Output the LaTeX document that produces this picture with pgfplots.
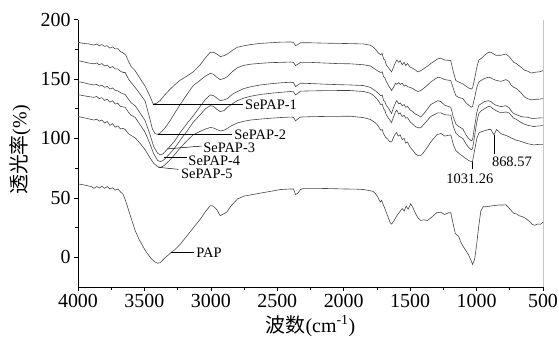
\documentclass[border=0pt]{standalone}
\usepackage{fontspec}
\setmainfont{Liberation Serif}
\newfontfamily\cjk{Noto Sans CJK SC}
\usepackage{pgfplots}
\pgfplotsset{compat=1.18}

\begin{document}
\begin{tikzpicture}
\useasboundingbox (-78bp,-52bp) rectangle (481bp,287bp);
\begin{axis}[
  at={(0,0)}, anchor=south west,
  scale only axis, width=465bp, height=267.4bp,
  x dir=reverse, xmin=500, xmax=4000, ymin=-25, ymax=200,
  axis x line*=bottom, axis y line*=left, axis line style={-, line width=0.7pt},
  xtick={500,1000,...,4000}, ytick={0,50,...,200},
  minor x tick num=1, minor y tick num=1,
  tick align=outside, major tick length=4bp, minor tick length=2.5bp,
  tick style={black, line width=0.6pt},
  ticklabel style={font=\fontsize{20}{22}\selectfont},
  /pgf/number format/assume math mode=true,
  /pgf/number format/1000 sep={},
  xlabel={{\cjk 波数}(cm\textsuperscript{-1})},
  xlabel style={at={(axis description cs:0.5,0)}, anchor=center, yshift=-39bp,
    font=\fontsize{20}{22}\selectfont},
  ylabel={{\cjk 透光率}(\%)},
  ylabel style={at={(axis description cs:-0.1247,0.512)}, anchor=center,
    font=\fontsize{20}{22}\selectfont},
  spec/.style={black!72, line width=0.6pt, mark=none},
  clip=false,
]
\draw[gray!45, line width=0.6pt] (rel axis cs:1,0) -- (rel axis cs:1,1);

% SePAP-1
\addplot[spec] coordinates {
(4000,180.9) (3960,180) (3920,179.5) (3880,178.5) (3860,179.5) (3840,178) (3820,179)
(3800,177.5) (3780,178) (3760,176) (3740,177) (3720,175.3) (3700,175.5) (3680,173)
(3660,172) (3640,170) (3620,165) (3600,160.5) (3570,157) (3530,150) (3495,144)
(3460,136) (3434,129) (3410,129.5) (3381,132) (3344,137) (3306,141.5) (3268,145.5)
(3231,149) (3180,152.5) (3133,156) (3080,162) (3040,168) (3004,172.5) (2980,172.5)
(2955,171) (2929,168.9) (2900,169.7) (2876,171) (2840,174) (2801,176.7) (2750,178)
(2700,179) (2627,180) (2550,180.5) (2476,181) (2400,181.2) (2378,180.8) (2363,178)
(2345,179) (2325,180.5) (2250,180.5) (2150,180.2) (2050,180) (1950,179.8) (1850,179.5)
(1800,178.5) (1780,177) (1760,175) (1740,172) (1722,170.5) (1710,171.5) (1700,167)
(1690,166) (1680,162) (1660,159) (1640,156) (1625,160) (1610,164) (1600,166)
(1585,164) (1575,165.5) (1560,162) (1545,164) (1533,161.5) (1520,163) (1500,160)
(1480,159) (1460,157.5) (1440,156) (1420,157) (1400,158.5) (1368,161) (1345,163)
(1292,167) (1269,167.5) (1240,166) (1194,165.5) (1175,156) (1156,148.7) (1134,147.5)
(1103,145.9) (1080,144) (1060,142.5) (1040,141.5) (1030,142.5) (1015,150) (998,160)
(983,166) (968,167) (940,170) (910,172.5) (892,172.5) (877,171.5) (855,170) (817,170)
(779,171) (756,169) (741,167) (720,164) (700,163) (666,160) (640,157.5) (613,156.5)
(590,155) (568,155.5) (553,155.8) (530,156) (500,157)
};

% SePAP-2
\addplot[spec] coordinates {
(4000,165.5) (3960,164.5) (3920,163.5) (3880,162.8) (3860,163.5) (3840,162) (3820,163)
(3800,161) (3780,161.8) (3760,159.5) (3740,160.5) (3720,158.5) (3700,158.5) (3680,156.5)
(3660,155.5) (3645,155.5) (3620,150) (3600,147) (3570,143) (3530,137) (3495,131.5)
(3460,117) (3440,108) (3420,104) (3400,103.5) (3381,104.5) (3344,109) (3306,115)
(3268,122) (3231,128.5) (3180,137) (3133,144.5) (3080,149) (3040,152.5) (3004,154.8)
(2980,154) (2955,151.5) (2929,149.5) (2900,150.5) (2876,152) (2840,156) (2801,159.5)
(2750,161.5) (2700,162.5) (2627,163.2) (2550,163.8) (2476,164) (2400,164.3) (2378,164)
(2363,161.3) (2345,162.5) (2325,164) (2250,164) (2150,163.5) (2050,163) (1950,162.8)
(1850,162) (1800,161) (1780,159.5) (1760,158) (1740,156.5) (1722,155.5) (1710,156)
(1700,152) (1690,151) (1680,148) (1660,144) (1640,140.3) (1625,143) (1610,146.5)
(1600,145.5) (1585,147) (1575,145.5) (1560,146.5) (1545,144) (1533,145) (1520,143.5)
(1500,143) (1480,142) (1460,140.5) (1440,139.5) (1420,140.3) (1400,142) (1368,145)
(1345,147.5) (1292,151.5) (1269,151) (1240,149.5) (1194,148.7) (1175,142) (1156,136)
(1134,134.5) (1103,133.5) (1080,130) (1060,128) (1040,126.2) (1030,127) (1015,134)
(998,143) (983,147.5) (968,148.7) (940,150.5) (910,151.5) (892,151) (877,150)
(855,149) (817,148) (779,149.5) (756,148) (741,145) (720,143) (700,142) (666,138.5)
(640,135) (613,133.3) (590,132.5) (568,132.7) (553,133) (530,133) (500,133.5)
};

% SePAP-3
\addplot[spec] coordinates {
(4000,147.8) (3960,147) (3920,145.8) (3880,145) (3860,145.5) (3840,144) (3820,144.8)
(3800,143) (3780,143.8) (3760,141.5) (3740,142.5) (3720,140.5) (3700,140) (3680,138.5)
(3660,137.5) (3645,137) (3620,133) (3600,130) (3570,127.6) (3530,121) (3495,115)
(3460,104) (3430,93) (3400,87.5) (3380,86.2) (3360,87) (3344,89) (3306,93.5)
(3268,98.5) (3231,105) (3180,112.5) (3133,119) (3080,127) (3040,133) (3004,136.6)
(2980,136) (2955,134) (2929,131.8) (2900,132.5) (2876,133.5) (2840,137) (2801,139.5)
(2750,142) (2700,143.5) (2627,145) (2550,146) (2476,146.8) (2400,147.3) (2378,147)
(2363,143.6) (2345,145) (2325,146.5) (2250,146.2) (2150,145.7) (2050,145.3) (1950,145)
(1850,144.5) (1800,143) (1780,141.5) (1760,140) (1740,138) (1722,136) (1710,136.5)
(1700,132) (1690,131) (1680,128) (1660,125) (1640,121) (1625,126) (1610,130)
(1601,131.8) (1585,129) (1575,130) (1560,127.5) (1545,128.5) (1533,126.2) (1520,127)
(1500,124) (1480,122.5) (1460,120.5) (1440,119.5) (1420,118) (1400,120.5) (1368,125)
(1345,128.5) (1292,131.8) (1269,131) (1240,128) (1194,126.2) (1175,118) (1156,112.2)
(1134,110) (1103,108) (1080,103) (1060,100) (1040,98) (1030,99) (1015,110) (998,122)
(983,128) (968,129) (940,131) (910,131.8) (892,131) (877,129.5) (855,128) (817,126.8)
(779,127.5) (756,126) (741,123.4) (720,121) (700,120) (666,118.5) (640,118) (613,117.8)
(590,117) (568,116.8) (553,117) (530,117.2) (500,117.3)
};

% SePAP-4
\addplot[spec] coordinates {
(4000,136.9) (3960,136) (3920,135.2) (3880,134.6) (3860,135.3) (3840,133.5) (3820,134.3)
(3800,132) (3780,133) (3760,130.5) (3740,131.8) (3720,129) (3700,129.5) (3680,127)
(3660,126.5) (3645,126.2) (3620,122) (3600,119.5) (3570,117.8) (3530,111) (3495,105.2)
(3460,96) (3430,87) (3400,81.5) (3380,80.5) (3360,81.5) (3344,83) (3306,87.5)
(3268,92.6) (3231,98.5) (3180,106) (3133,113.6) (3080,120) (3040,125) (3004,127.6)
(2980,127) (2955,124.5) (2929,122.6) (2900,123.5) (2876,126.2) (2840,129) (2801,131.8)
(2750,134) (2700,135.5) (2627,137) (2550,138) (2476,138.8) (2400,139.5) (2378,139.3)
(2363,136.6) (2345,138) (2325,139.8) (2250,140) (2150,140.2) (2050,140.3) (1950,140.3)
(1850,139.5) (1800,138) (1780,136.5) (1760,134.5) (1740,132) (1722,128.5) (1710,129)
(1700,125) (1690,123.5) (1680,120) (1660,116.5) (1640,113.5) (1625,118) (1610,122.5)
(1601,123.8) (1585,120.5) (1575,121.5) (1560,118.5) (1545,119.5) (1533,117) (1520,117.5)
(1500,114) (1480,112) (1460,110) (1440,109) (1420,109) (1400,111.5) (1368,115.5)
(1345,118.5) (1292,121.5) (1269,121.5) (1240,120) (1194,119.5) (1175,110) (1156,104.5)
(1134,102) (1103,100) (1080,95.5) (1060,92.5) (1040,90.5) (1030,91.5) (1015,102)
(998,114) (983,121) (968,123) (940,125) (910,127) (892,126.5) (877,125) (855,123.5)
(817,121.5) (779,122.3) (756,121.5) (741,119.5) (720,117) (700,116) (666,113.5)
(640,112) (613,111) (590,110.5) (568,110) (553,110.3) (530,110.5) (500,110.8)
};

% SePAP-5
\addplot[spec] coordinates {
(4000,118.5) (3960,117.5) (3920,116.5) (3880,115.5) (3860,116.3) (3840,114.5) (3820,115.5)
(3800,113) (3780,114.3) (3760,111) (3740,112.5) (3720,109.5) (3700,110.5) (3680,108)
(3660,108.5) (3645,107.5) (3620,104) (3600,102.5) (3570,100.5) (3530,95.5) (3495,90.5)
(3460,84) (3430,79) (3400,76.2) (3380,75.7) (3360,76.5) (3344,78) (3306,82) (3268,87)
(3231,92) (3180,98) (3133,103) (3080,106) (3040,108) (3004,109.2) (2980,108.8)
(2955,107.5) (2929,106.3) (2900,107) (2876,108.5) (2840,111) (2801,113) (2750,114.5)
(2700,115.5) (2627,116.3) (2550,117) (2476,117.6) (2400,118) (2378,117.8) (2363,114.8)
(2345,116.5) (2325,118) (2250,118.3) (2150,118.5) (2050,118.6) (1950,118.7) (1850,117.5)
(1800,116) (1780,114.5) (1760,113) (1740,110.5) (1722,107) (1710,107.5) (1700,104)
(1685,101) (1670,99.5) (1655,97.5) (1639,97) (1625,101) (1610,104) (1601,105)
(1590,102) (1575,103) (1560,99) (1545,100) (1533,96) (1520,97) (1500,92.5) (1480,90)
(1460,87) (1440,85.5) (1420,85.6) (1400,88) (1368,93) (1345,97) (1300,103) (1269,104.2)
(1240,102) (1194,103) (1175,95) (1156,89.8) (1134,87.5) (1103,85) (1080,83) (1060,81.5)
(1040,80.5) (1031.26,80.2) (1015,90) (998,100) (983,104.5) (968,105.5) (940,106.5)
(910,107.5) (892,107.5) (877,104.5) (868.57,103) (860,105) (850,107.5) (835,106)
(817,104) (779,102.5) (756,101.5) (741,100.5) (720,99.5) (700,98.5) (666,97.5)
(640,96.5) (613,95.5) (590,95) (568,94.5) (553,94.8) (530,95) (500,95)
};

% PAP
\addplot[spec] coordinates {
(4000,61.8) (3960,61) (3920,60) (3900,59.5) (3880,58) (3860,59.5) (3840,58.3) (3820,59.8)
(3800,58) (3780,59.5) (3760,57.5) (3740,58.5) (3720,56.5) (3700,57.5) (3680,55)
(3660,53) (3640,47) (3620,40) (3600,33) (3570,22.5) (3540,15) (3500,7) (3480,3.5)
(3450,-1) (3420,-4) (3400,-5) (3380,-4.5) (3350,-1) (3310,3) (3270,6.5) (3230,11)
(3180,18) (3130,25) (3080,32) (3040,38.5) (3004,43.5) (2980,43) (2955,40) (2930,35)
(2905,36.5) (2880,38) (2850,43) (2800,49) (2750,51.5) (2700,52.5) (2627,54) (2550,55.5)
(2476,57) (2400,57.5) (2378,57.5) (2363,52.8) (2345,54) (2325,57) (2300,58) (2200,58)
(2100,57.8) (2000,57.5) (1900,57.3) (1850,57) (1800,56) (1780,55.5) (1760,53.5)
(1740,50) (1725,46.5) (1715,48) (1705,45) (1690,41) (1670,35) (1650,29) (1639,28)
(1620,31) (1600,35) (1580,38) (1560,41) (1545,39) (1530,43) (1515,40.5) (1496,45)
(1480,42) (1460,37) (1440,33) (1420,31) (1400,31.5) (1370,31) (1340,33.5) (1300,37.5)
(1270,38) (1240,36) (1210,37.5) (1194,37.5) (1180,30) (1160,20) (1140,18) (1134,17.5)
(1120,13) (1100,9) (1081,5.6) (1060,2) (1040,-3) (1030,-6) (1015,-2) (1000,10) (985,25)
(968,39) (950,42.5) (930,42.5) (900,43) (870,43.5) (830,44) (800,44) (779,44.2)
(760,42) (741,39.5) (720,37) (700,36.5) (680,35) (650,34) (628,32.5) (600,30)
(580,27.5) (560,27) (540,28) (520,27.8) (500,29.5)
};

% leader lines and labels
\begin{scope}[black, line width=0.5pt]
\draw (3434,129) -- (2755,129);
\draw (3400,103.8) -- (2838,103.8);
\draw (3330,91.2) -- (3070,93.6);
\draw (3350,84.0) -- (3180,84.0);
\draw (3395,75.7) -- (3245,74.0);
\draw (3300,4) -- (3130,4);
\draw (1031.26,80.2) -- (1031.26,74.6);
\draw (868.57,103) -- (868.57,87);
\end{scope}
\begin{scope}[every node/.style={font=\fontsize{14.5}{15}\selectfont, inner sep=0.3pt}]
\node[anchor=west] at (2745,128.5) {SePAP-1};
\node[anchor=west] at (2826,103.0) {SePAP-2};
\node[anchor=west] at (3060,92.4) {SePAP-3};
\node[anchor=west] at (3172,81.6) {SePAP-4};
\node[anchor=west] at (3228,70.6) {SePAP-5};
\node[anchor=west] at (3112,4.2) {PAP};
\node[anchor=north] at (1051,71) {1031.26};
\node[anchor=north] at (734,85) {868.57};
\end{scope}
\end{axis}
\end{tikzpicture}
\end{document}
